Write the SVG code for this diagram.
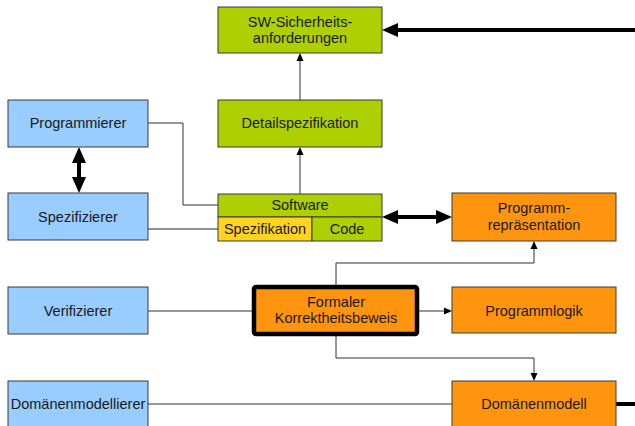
<svg xmlns="http://www.w3.org/2000/svg" width="635" height="426" viewBox="0 0 635 426">
<style>
  .box { stroke: #3a3a3a; stroke-width: 1; }
  .blue { fill: #99CCFF; }
  .green { fill: #AECF00; }
  .orange { fill: #FF950E; }
  .yellow { fill: #FFD320; }
  text { font-family: "Liberation Sans", Arial, sans-serif; font-size: 14.5px; fill: #1a1a1a; text-anchor: middle; }
  .thin { fill: none; stroke: #333; stroke-width: 1; }
  .gray { fill: none; stroke: #6e6e6e; stroke-width: 1.5; }
  .thick { fill: none; stroke: #000; stroke-width: 4; }
</style>
<defs>
  <marker id="big" markerUnits="userSpaceOnUse" markerWidth="17" markerHeight="15" refX="6" refY="7" orient="auto-start-reverse" overflow="visible">
    <path d="M0,0 L16,7 L0,14 z" fill="#000"/>
  </marker>
  <marker id="small" markerUnits="userSpaceOnUse" markerWidth="9" markerHeight="8" refX="4" refY="3.5" orient="auto" overflow="visible">
    <path d="M0,0 L8,3.5 L0,7 z" fill="#000"/>
  </marker>
</defs>

<g id="connectors">
  <line class="thick" x1="635" y1="30" x2="392" y2="30" marker-end="url(#big)"/>
  <line class="thick" x1="79" y1="157" x2="79" y2="183" marker-start="url(#big)" marker-end="url(#big)"/>
  <line class="thick" x1="392" y1="217" x2="442" y2="217" marker-start="url(#big)" marker-end="url(#big)"/>
  <line class="thick" x1="616" y1="404" x2="635" y2="404"/>
  <line class="thin" x1="300" y1="100" x2="300" y2="57" marker-end="url(#small)"/>
  <line class="thin" x1="300" y1="194" x2="300" y2="151" marker-end="url(#small)"/>
  <path class="thin" d="M148,123 H183 V205 H218"/>
  <line class="gray" x1="148" y1="229" x2="218" y2="229"/>
  <path class="thin" d="M336,287 V263 H534 V245" marker-end="url(#small)"/>
  <line class="thin" x1="148" y1="311" x2="252" y2="311"/>
  <line class="thin" x1="419" y1="311" x2="448" y2="311" marker-end="url(#small)"/>
  <path class="thin" d="M336,336 V358 H534 V377" marker-end="url(#small)"/>
  <line class="thin" x1="148" y1="404" x2="452" y2="404"/>
</g>

<g id="sw-sicherheitsanforderungen">
  <rect class="box green" x="218" y="7" width="164" height="46"/>
  <text x="300" y="27">SW-Sicherheits-</text>
  <text x="300" y="43">anforderungen</text>
</g>

<g id="detailspezifikation">
  <rect class="box green" x="218" y="100" width="164" height="47"/>
  <text x="300" y="128">Detailspezifikation</text>
</g>

<g id="programmierer">
  <rect class="box blue" x="8" y="100" width="140" height="47"/>
  <text x="78" y="128">Programmierer</text>
</g>

<g id="spezifizierer">
  <rect class="box blue" x="8" y="193" width="140" height="47"/>
  <text x="78" y="222">Spezifizierer</text>
</g>

<g id="software">
  <rect class="box green" x="218" y="194" width="164" height="23"/>
  <text x="300" y="210">Software</text>
  <rect class="box yellow" x="218" y="217" width="94" height="24"/>
  <text x="265" y="234">Spezifikation</text>
  <rect class="box green" x="312" y="217" width="70" height="24"/>
  <text x="347" y="234">Code</text>
</g>

<g id="programmrepraesentation">
  <rect class="box orange" x="452" y="193" width="164" height="48"/>
  <text x="534" y="213">Programm-</text>
  <text x="534" y="230">repräsentation</text>
</g>

<g id="verifizierer">
  <rect class="box blue" x="8" y="287" width="140" height="47"/>
  <text x="78" y="316">Verifizierer</text>
</g>

<g id="formaler-korrektheitsbeweis">
  <rect x="254" y="287" width="163" height="47" rx="2" fill="#FF950E" stroke="#000" stroke-width="4.5"/>
  <text x="336" y="307">Formaler</text>
  <text x="336" y="323">Korrektheitsbeweis</text>
</g>

<g id="programmlogik">
  <rect class="box orange" x="452" y="287" width="164" height="46"/>
  <text x="534" y="316">Programmlogik</text>
</g>

<g id="domaenenmodellierer">
  <rect class="box blue" x="8" y="381" width="140" height="50"/>
  <text x="78" y="409">Domänenmodellierer</text>
</g>

<g id="domaenenmodell">
  <rect class="box orange" x="452" y="381" width="164" height="50"/>
  <text x="534" y="409">Domänenmodell</text>
</g>
</svg>
